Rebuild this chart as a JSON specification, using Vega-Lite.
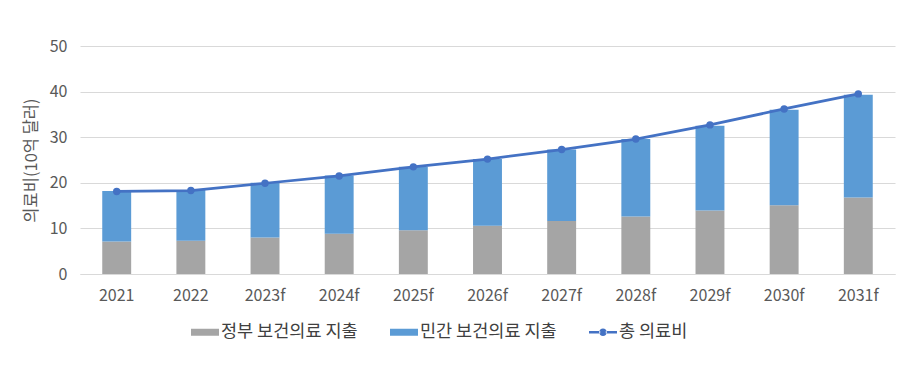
{
  "$schema": "https://vega.github.io/schema/vega-lite/v6.json",
  "width": 815,
  "height": 228,
  "autosize": {"type": "none"},
  "padding": {"left": 80, "top": 46, "right": 14, "bottom": 107},
  "background": "white",
  "config": {
    "view": {"stroke": null},
    "font": "Noto Sans CJK KR",
    "axis": {"labelFont": "Noto Sans CJK KR", "titleFont": "Noto Sans CJK KR", "labelColor": "#595959", "titleColor": "#595959", "labelFontSize": 16, "titleFontSize": 16.5, "titleFontWeight": "normal"},
    "legend": {"labelFont": "Noto Sans CJK KR", "labelFontSize": 17.5, "labelColor": "#404040"}
  },
  "datasets": {
    "bars": [
      {"year": "2021", "type": "정부 보건의료 지출", "value": 7.1},
      {"year": "2021", "type": "민간 보건의료 지출", "value": 11.1},
      {"year": "2022", "type": "정부 보건의료 지출", "value": 7.3},
      {"year": "2022", "type": "민간 보건의료 지출", "value": 11.1},
      {"year": "2023f", "type": "정부 보건의료 지출", "value": 8.0},
      {"year": "2023f", "type": "민간 보건의료 지출", "value": 12.0},
      {"year": "2024f", "type": "정부 보건의료 지출", "value": 8.8},
      {"year": "2024f", "type": "민간 보건의료 지출", "value": 12.8},
      {"year": "2025f", "type": "정부 보건의료 지출", "value": 9.6},
      {"year": "2025f", "type": "민간 보건의료 지출", "value": 13.9},
      {"year": "2026f", "type": "정부 보건의료 지출", "value": 10.6},
      {"year": "2026f", "type": "민간 보건의료 지출", "value": 14.6},
      {"year": "2027f", "type": "정부 보건의료 지출", "value": 11.6},
      {"year": "2027f", "type": "민간 보건의료 지출", "value": 15.7},
      {"year": "2028f", "type": "정부 보건의료 지출", "value": 12.6},
      {"year": "2028f", "type": "민간 보건의료 지출", "value": 17.0},
      {"year": "2029f", "type": "정부 보건의료 지출", "value": 13.9},
      {"year": "2029f", "type": "민간 보건의료 지출", "value": 18.6},
      {"year": "2030f", "type": "정부 보건의료 지출", "value": 15.1},
      {"year": "2030f", "type": "민간 보건의료 지출", "value": 20.9},
      {"year": "2031f", "type": "정부 보건의료 지출", "value": 16.8},
      {"year": "2031f", "type": "민간 보건의료 지출", "value": 22.5}
    ],
    "totals": [
      {"year": "2021", "total": 18.1},
      {"year": "2022", "total": 18.3},
      {"year": "2023f", "total": 19.9},
      {"year": "2024f", "total": 21.5},
      {"year": "2025f", "total": 23.5},
      {"year": "2026f", "total": 25.2},
      {"year": "2027f", "total": 27.3},
      {"year": "2028f", "total": 29.6},
      {"year": "2029f", "total": 32.7},
      {"year": "2030f", "total": 36.2},
      {"year": "2031f", "total": 39.5}
    ]
  },
  "encoding": {
    "x": {
      "field": "year", "type": "nominal", "sort": null,
      "scale": {"paddingInner": 0.61, "paddingOuter": 0.3},
      "axis": {"title": null, "labelAngle": 0, "ticks": false, "domainColor": "#D9D9D9", "domainWidth": 1, "labelPadding": 13}
    }
  },
  "layer": [
    {
      "data": {"name": "bars"},
      "mark": {"type": "bar"},
      "encoding": {
        "y": {
          "field": "value", "type": "quantitative", "stack": "zero",
          "scale": {"domain": [0, 50]},
          "axis": {"title": "의료비(10억 달러)", "values": [0, 10, 20, 30, 40, 50], "domain": false, "ticks": false, "gridColor": "#D9D9D9", "labelPadding": 13, "titlePadding": 10}
        },
        "color": {
          "field": "type", "type": "nominal",
          "sort": ["정부 보건의료 지출", "민간 보건의료 지출", "총 의료비"],
          "scale": {"domain": ["정부 보건의료 지출", "민간 보건의료 지출", "총 의료비"], "range": ["#A5A5A5", "#5B9BD5", "#4472C4"]},
          "legend": {
            "title": null, "orient": "none", "direction": "horizontal",
            "legendX": 111, "legendY": 272,
            "symbolSize": 784, "labelOffset": 2, "columnPadding": 32,
            "encode": {
              "symbols": {
                "update": {
                  "shape": {"signal": "datum.value === '총 의료비' ? 'M-1,-0.09H-0.2V0.09H-1Z M0.2,-0.09H1V0.09H0.2Z M-0.27,0A0.27,0.27 0 1,0 0.27,0A0.27,0.27 0 1,0 -0.27,0Z' : 'M-1,-0.25H1V0.25H-1Z'"},
                  "fill": {"signal": "scale('color', datum.value)"},
                  "strokeWidth": {"value": 0},
                  "opacity": {"value": 1},
                  "fillOpacity": {"value": 1}
                }
              }
            }
          }
        },
        "order": {"field": "type", "sort": "descending"}
      }
    },
    {
      "data": {"name": "totals"},
      "mark": {"type": "line", "strokeWidth": 2.75},
      "encoding": {
        "y": {"field": "total", "type": "quantitative"},
        "color": {"datum": "총 의료비", "type": "nominal"}
      }
    },
    {
      "data": {"name": "totals"},
      "mark": {"type": "point", "filled": true, "size": 55, "opacity": 1},
      "encoding": {
        "y": {"field": "total", "type": "quantitative"},
        "color": {"datum": "총 의료비", "type": "nominal"}
      }
    }
  ]
}
